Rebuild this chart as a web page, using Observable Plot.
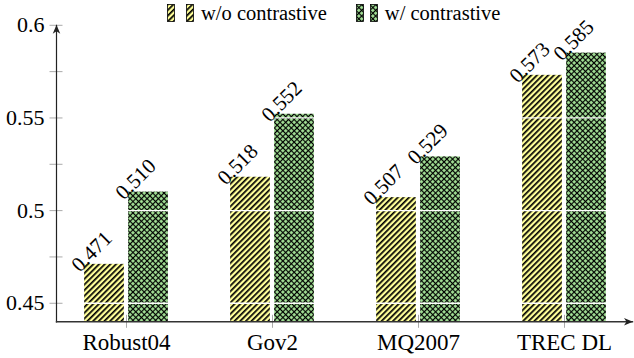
<!DOCTYPE html>
<html><head><meta charset="utf-8">
<script src="https://cdn.jsdelivr.net/npm/d3@7"></script>
<script src="https://cdn.jsdelivr.net/npm/@observablehq/plot@0.6"></script>
<style>
html,body{margin:0;padding:0;background:#fff;}
#wrap{position:relative;width:634px;height:358px;font-family:'Liberation Serif','Times New Roman',serif;overflow:hidden;}
#legend{position:absolute;top:3px;left:167px;display:flex;align-items:center;font-size:20.5px;color:#000;white-space:nowrap;line-height:1;}
#legend svg{display:block;}
#chart{position:absolute;top:0;left:0;}
#chart svg, #chart svg text{font-family:'Liberation Serif','Times New Roman',serif !important;}
</style></head><body>
<svg width="0" height="0" style="position:absolute">
  <defs>
    <pattern id="stripes" patternUnits="userSpaceOnUse" width="4" height="4" patternTransform="rotate(45)">
      <rect width="4" height="4" fill="#ffff99"/>
      <rect x="0" y="0" width="1.7" height="4" fill="#000"/>
    </pattern>
    <pattern id="hatch" patternUnits="userSpaceOnUse" width="4" height="4" patternTransform="rotate(45)">
      <rect width="4" height="4" fill="#000"/>
      <rect x="1.1" y="1.1" width="2.8" height="2.8" fill="#aaea9c"/>
    </pattern>
    <marker id="arrow" viewBox="0 0 10 10" refX="9.5" refY="5" markerUnits="userSpaceOnUse" markerWidth="9" markerHeight="9" orient="auto-start-reverse">
      <path d="M0,0.8 L10,5 L0,9.2 L2.8,5 Z" fill="#222"/>
    </marker>
  </defs>
</svg>
<div id="wrap">
  <div id="chart"></div>
  <div id="legend"></div>
</div>
<script>
// ---- data ----
const categories = ["Robust04", "Gov2", "MQ2007", "TREC DL"];
const seriesNames = ["w/o contrastive", "w/ contrastive"];
const withoutContrastive = [0.471, 0.518, 0.507, 0.573];
const withContrastive = [0.510, 0.552, 0.529, 0.585];
const yTicks = [0.45, 0.5, 0.55, 0.6];
const yMinorTicks = [0.475, 0.525, 0.575];
const yDomain = [0.44, 0.6];

// ---- layout constants ----
const W = 634, H = 358;
const xRange = [52, 637];
const step = (xRange[1] - xRange[0]) / categories.length;
const barW = 40, gap = 4;
const half = step / 2;
const patterns = ["url(#stripes)", "url(#hatch)"];
const FONT = "'Liberation Serif', 'Times New Roman', serif";

const rows0 = categories.map((c, i) => ({category: c, series: seriesNames[0], value: withoutContrastive[i]}));
const rows1 = categories.map((c, i) => ({category: c, series: seriesNames[1], value: withContrastive[i]}));

const labelFont = 21;
const off = gap / 2 + barW / 2;
const lift = 8;

const chart = Plot.plot({
  width: W,
  height: H,
  marginLeft: 56,
  marginRight: 2,
  marginTop: 24.8,
  marginBottom: 36.7,
  style: {fontFamily: FONT, fontSize: "22px", background: "transparent", overflow: "visible"},
  x: {domain: categories, range: xRange, padding: 0},
  y: {domain: yDomain},
  marks: [
    Plot.barY(rows0, {x: "category", y1: yDomain[0], y2: "value", fill: patterns[0],
      insetLeft: half - gap / 2 - barW, insetRight: half + gap / 2}),
    Plot.barY(rows1, {x: "category", y1: yDomain[0], y2: "value", fill: patterns[1],
      insetLeft: half + gap / 2, insetRight: half - gap / 2 - barW}),
    Plot.gridY(yTicks, {stroke: "#fff", strokeOpacity: 1, strokeWidth: 1.3}),
    Plot.axisY(yTicks, {tickSize: 13, dx: 6.5, tickFormat: () => "", stroke: "#aaa", label: null}),
    Plot.axisY(yMinorTicks, {tickSize: 13, dx: 6.5, tickFormat: () => "", stroke: "#aaa", label: null}),
    Plot.axisY(yTicks, {tickSize: 0, tickPadding: 12, tickFormat: d => String(d), fill: "#000", label: null, fontSize: 22}),
    Plot.axisX({tickSize: 13, dy: -6.5, tickFormat: () => "", stroke: "#aaa", label: null}),
    Plot.axisX({tickSize: 0, tickPadding: 12, fill: "#000", label: null, fontSize: 23}),
    Plot.frame({anchor: "left", stroke: "#222", strokeWidth: 1.2, ariaLabel: "yline"}),
    Plot.frame({anchor: "bottom", stroke: "#333", strokeWidth: 1.4, ariaLabel: "xline"}),
    Plot.text(rows0, {x: "category", y: "value", text: d => d.value.toFixed(3), rotate: -45,
      textAnchor: "middle", lineAnchor: "bottom", dx: -off - lift, dy: -lift, fontSize: labelFont, fill: "#000"}),
    Plot.text(rows1, {x: "category", y: "value", text: d => d.value.toFixed(3), rotate: -45,
      textAnchor: "middle", lineAnchor: "bottom", dx: off - lift, dy: -lift, fontSize: labelFont, fill: "#000"})
  ]
});
document.getElementById("chart").appendChild(chart);
chart.querySelectorAll('[aria-label="yline"]').forEach(el => {
  (el.tagName === "line" ? [el] : el.querySelectorAll("line")).forEach(l => l.setAttribute("marker-start", "url(#arrow)"));
});
chart.querySelectorAll('[aria-label="xline"]').forEach(el => {
  (el.tagName === "line" ? [el] : el.querySelectorAll("line")).forEach(l => l.setAttribute("marker-end", "url(#arrow)"));
});

// ---- legend ----
const legend = d3.select("#legend");
function swatch(fill, ml) {
  const s = legend.append("svg").attr("width", 8).attr("height", 18).style("margin-left", ml + "px");
  s.append("rect").attr("x", 0.5).attr("y", 0.5).attr("width", 7).attr("height", 17)
    .attr("fill", fill).attr("stroke", "#000").attr("stroke-width", 0.8);
}
swatch(patterns[0], 0);
swatch(patterns[0], 11);
legend.append("span").text(seriesNames[0]).style("margin-left", "7px");
swatch(patterns[1], 29);
swatch(patterns[1], 6);
legend.append("span").text(seriesNames[1]).style("margin-left", "7px");
</script>
</body></html>
